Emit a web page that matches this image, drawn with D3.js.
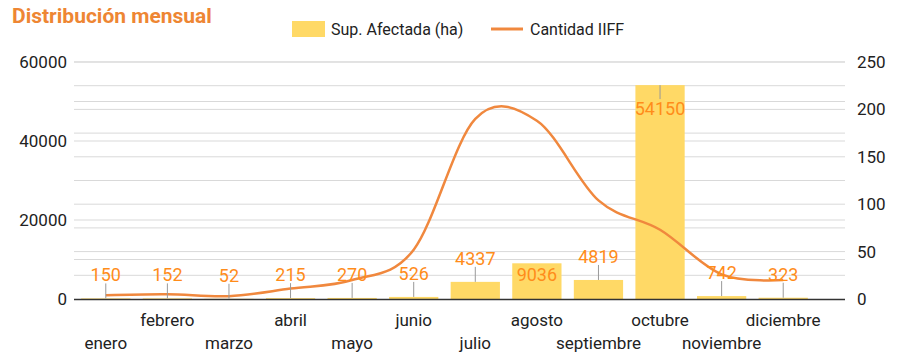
<!DOCTYPE html>
<html>
<head>
<meta charset="utf-8">
<script src="https://cdn.jsdelivr.net/npm/d3@7"></script>
<style>
  body { margin: 0; background: #fff; }
  svg { display: block; font-family: Roboto, "Noto Sans", sans-serif; }
</style>
</head>
<body>
<svg id="chart" width="908" height="362"></svg>
<script>
// Monthly distribution: burned area (bars, left axis) and fire count (line, right axis)
const months = ["enero", "febrero", "marzo", "abril", "mayo", "junio",
  "julio", "agosto", "septiembre", "octubre", "noviembre", "diciembre"];
const supAfectada = [150, 152, 52, 215, 270, 526, 4337, 9036, 4819, 54150, 742, 323];
const cantidadIIFF = [4, 5, 3, 11, 20, 52, 190, 188, 104, 73, 26, 20];
const leftTicks = [0, 20000, 40000, 60000];
const rightTicks = [0, 50, 100, 150, 200, 250];
// labels that the original draws inside the bar
const insideLabels = ["agosto", "octubre"];

const svg = d3.select("#chart");
const plotLeft = 74, plotRight = 845, plotTop = 62, plotBottom = 299;

const x = d3.scaleBand().domain(months).range([75, 814]).paddingInner(0.2).paddingOuter(0.1);
const yL = d3.scaleLinear().domain([0, 60000]).range([plotBottom, plotTop]);
const yR = d3.scaleLinear().domain([0, 250]).range([plotBottom, plotTop]);

// title
svg.append("text")
  .attr("x", 12).attr("y", 23)
  .attr("font-size", 21).attr("font-weight", "bold")
  .attr("fill", "#ee8633")
  .text("Distribución mensual");

// legend
svg.append("rect").attr("x", 292).attr("y", 21).attr("width", 33).attr("height", 16).attr("fill", "#ffd966");
svg.append("text").attr("x", 331).attr("y", 35).attr("font-size", 16).attr("fill", "#222").text("Sup. Afectada (ha)");
svg.append("line").attr("x1", 491).attr("x2", 523).attr("y1", 29).attr("y2", 29)
  .attr("stroke", "#f0883e").attr("stroke-width", 3);
svg.append("text").attr("x", 530).attr("y", 35).attr("font-size", 16).attr("fill", "#222").text("Cantidad IIFF");

// gridlines: left every 10000, right every 25
const grid = svg.append("g");
const gridVals = d3.range(10000, 60001, 10000).map((v) => yL(v))
  .concat(d3.range(25, 251, 25).map((v) => yR(v)));
grid.selectAll("line").data(gridVals).enter().append("line")
  .attr("x1", plotLeft).attr("x2", plotRight)
  .attr("y1", (d) => d).attr("y2", (d) => d)
  .attr("stroke", "#d9d9d9").attr("stroke-width", 1);

// axes
const axL = svg.append("g").attr("transform", `translate(${plotLeft},0)`)
  .call(d3.axisLeft(yL).tickValues(leftTicks).tickFormat(d3.format("d")).tickSize(0).tickPadding(7));
const axR = svg.append("g").attr("transform", `translate(${plotRight},0)`)
  .call(d3.axisRight(yR).tickValues(rightTicks).tickSize(0).tickPadding(12));
[axL, axR].forEach((a) => {
  a.select(".domain").remove();
  a.selectAll("text").attr("font-size", 17).attr("fill", "#222").attr("font-family", "Roboto, sans-serif");
});

// bars
svg.append("g").selectAll("rect").data(months).enter().append("rect")
  .attr("x", (d) => x(d))
  .attr("width", x.bandwidth())
  .attr("y", (d, i) => yL(supAfectada[i]))
  .attr("height", (d, i) => plotBottom - yL(supAfectada[i]))
  .attr("fill", "#ffd966");

// baseline
svg.append("line").attr("x1", plotLeft).attr("x2", plotRight).attr("y1", plotBottom + 0.5).attr("y2", plotBottom + 0.5)
  .attr("stroke", "#333").attr("stroke-width", 1.5);

// line series
const line = d3.line()
  .x((d, i) => x(months[i]) + x.bandwidth() / 2)
  .y((d) => yR(d))
  .curve(d3.curveCardinal.tension(0));
svg.append("path").datum(cantidadIIFF)
  .attr("d", line)
  .attr("fill", "none").attr("stroke", "#f0883e").attr("stroke-width", 2.5);

// annotations with stems
const ann = svg.append("g");
months.forEach((m, i) => {
  const cx = x(m) + x.bandwidth() / 2;
  const yTop = yL(supAfectada[i]);
  const inside = insideLabels.includes(m);
  let stemEnd, labelY;
  if (inside) {
    stemEnd = m === "octubre" ? yTop + 14 : yTop;
    labelY = m === "octubre" ? yTop + 30 : yTop + 18;
  } else {
    stemEnd = yTop - 15;
    labelY = stemEnd - 2;
  }
  if (stemEnd !== yTop) {
    ann.append("line").attr("x1", cx).attr("x2", cx).attr("y1", yTop).attr("y2", stemEnd)
      .attr("stroke", "#999").attr("stroke-width", 1);
  }
  ann.append("text").attr("x", cx).attr("y", labelY)
    .attr("text-anchor", "middle").attr("font-size", 18).attr("fill", "#ff8c1a")
    .text(supAfectada[i]);
});

// month labels in two staggered rows
svg.append("g").selectAll("text").data(months).enter().append("text")
  .attr("x", (d) => x(d) + x.bandwidth() / 2)
  .attr("y", (d, i) => (i % 2 === 0 ? 349 : 326))
  .attr("text-anchor", "middle").attr("font-size", 17).attr("fill", "#222")
  .text((d) => d);
</script>
</body>
</html>
